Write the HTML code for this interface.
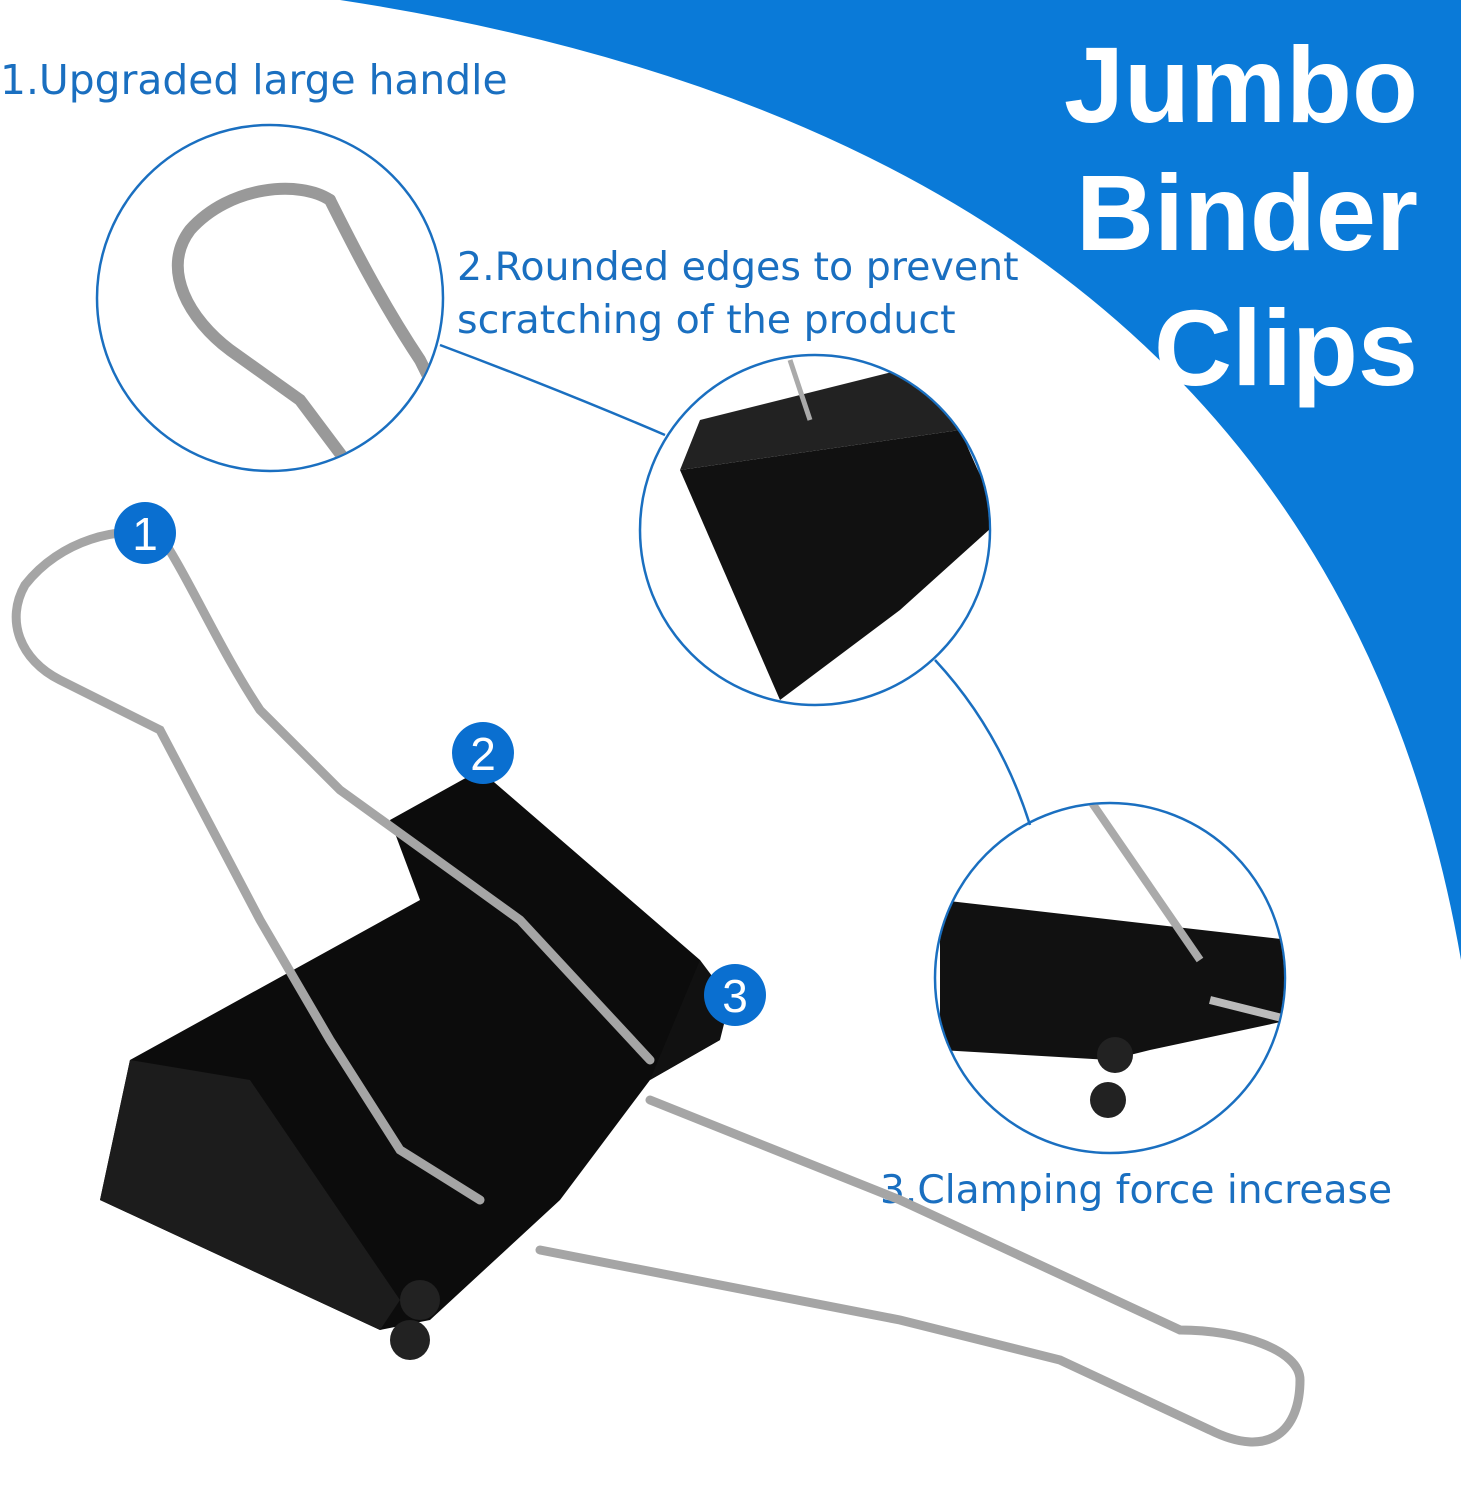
<!DOCTYPE html>
<html><head><meta charset="utf-8"><style>
html,body{margin:0;padding:0;background:#fff;}
svg{display:block;}
</style></head><body>
<svg width="1461" height="1500" viewBox="0 0 1461 1500" xmlns="http://www.w3.org/2000/svg">
<defs>
<clipPath id="c1"><circle cx="270" cy="298" r="172"/></clipPath>
<clipPath id="c2"><circle cx="815" cy="530" r="174"/></clipPath>
<clipPath id="c3"><circle cx="1110" cy="978" r="174"/></clipPath>
</defs>
<path d="M340,0 Q1320,150 1461,960 L1461,0 Z" fill="#0a7ad8"/>
<g font-family="Liberation Sans, sans-serif" font-weight="bold" fill="#fff" font-size="108" text-anchor="end">
<text x="1418" y="122">Jumbo</text>
<text x="1418" y="250">Binder</text>
<text x="1418" y="385">Clips</text>
</g>
<g font-family="DejaVu Sans, sans-serif" fill="#1a6fc0">
<text x="0" y="94" font-size="40.8">1.Upgraded large handle</text>
<text x="457" y="280" font-size="39.5">2.Rounded edges to prevent</text>
<text x="457" y="333" font-size="39.5">scratching of the product</text>
<text x="880" y="1203" font-size="39.2">3.Clamping force increase</text>
</g>
<g fill="none" stroke="#1a6fc0" stroke-width="2.5">
<circle cx="270" cy="298" r="173"/>
<circle cx="815" cy="530" r="175"/>
<circle cx="1110" cy="978" r="175"/>
<path d="M440,345 Q560,390 665,435"/>
<path d="M935,660 Q1000,730 1030,825"/>
</g>
<g clip-path="url(#c1)" fill="none" stroke="#999" stroke-width="12" stroke-linecap="round">
<path d="M330,200 C300,180 230,185 190,230 C160,270 190,320 230,350 L300,400 L360,480"/>
<path d="M330,200 C350,240 380,300 420,360 L450,420"/>
</g>
<g clip-path="url(#c2)">
<path d="M680,470 L960,430 L1000,520 L900,610 L780,700 Z" fill="#111"/>
<path d="M680,470 L960,430 L940,360 L700,420 Z" fill="#222"/>
<line x1="790" y1="360" x2="810" y2="420" stroke="#aaa" stroke-width="5"/>
</g>
<g clip-path="url(#c3)">
<path d="M940,900 L1290,940 L1290,1020 L1150,1050 L1110,1060 L940,1050 Z" fill="#111"/>
<line x1="1090" y1="800" x2="1200" y2="960" stroke="#aaa" stroke-width="8"/>
<line x1="1210" y1="1000" x2="1290" y2="1020" stroke="#bbb" stroke-width="8"/>
<circle cx="1115" cy="1055" r="18" fill="#222"/>
<circle cx="1108" cy="1100" r="18" fill="#222"/>
</g>
<path d="M390,820 L480,770 L700,960 L720,1040 L650,1080 L560,1200 L430,1320 L380,1330 L100,1200 L130,1060 L420,900 Z" fill="#0c0c0c"/>
<path d="M130,1060 L250,1080 L400,1300 L380,1330 L100,1200 Z" fill="#1c1c1c"/>
<path d="M650,1080 L700,960 L730,1000 L720,1040 Z" fill="#111"/>
<circle cx="420" cy="1300" r="20" fill="#222"/>
<circle cx="410" cy="1340" r="20" fill="#222"/>
<g fill="none" stroke="#a5a5a5" stroke-width="9" stroke-linecap="round">
<path d="M160,535 C120,525 60,540 25,585 C5,620 20,660 60,680 L160,730 L260,920 L330,1040 L400,1150 L480,1200"/>
<path d="M160,535 C190,580 220,650 260,710 L340,790 L520,920 L650,1060"/>
<path d="M650,1100 L900,1200 L1180,1330 C1240,1330 1300,1350 1300,1380 C1300,1430 1270,1460 1210,1430 L1060,1360 L900,1320 L540,1250"/>
</g>
<g font-family="Liberation Sans, sans-serif" font-size="46" fill="#fff" text-anchor="middle">
<circle cx="145" cy="533" r="31" fill="#0a6fd0"/><text x="145" y="550">1</text>
<circle cx="483" cy="753" r="31" fill="#0a6fd0"/><text x="483" y="770">2</text>
<circle cx="735" cy="995" r="31" fill="#0a6fd0"/><text x="735" y="1012">3</text>
</g>
</svg>
</body></html>
